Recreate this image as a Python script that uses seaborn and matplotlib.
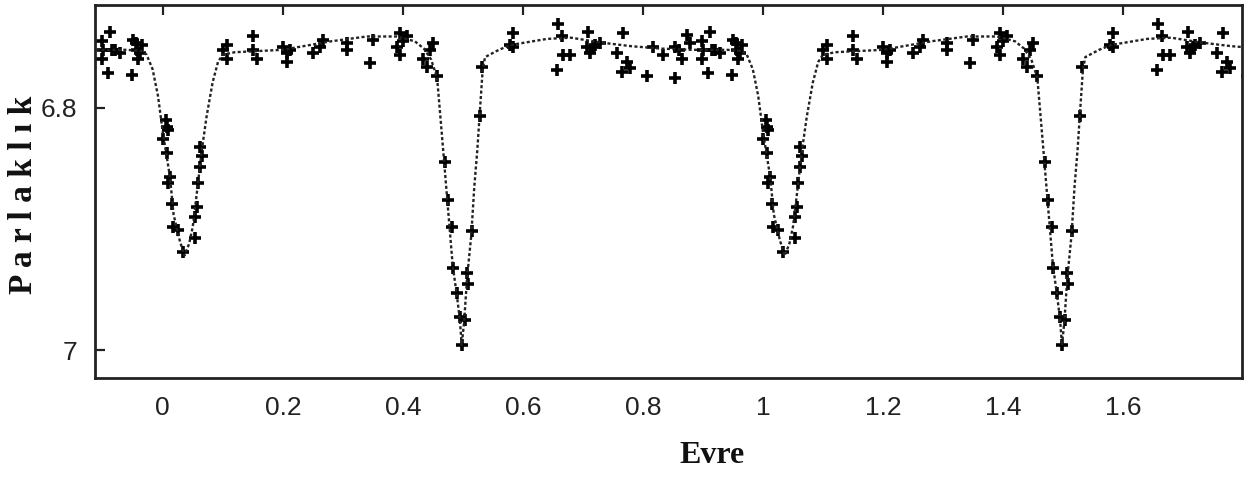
import pandas as pd
import matplotlib
matplotlib.use("Agg")
import matplotlib.pyplot as plt
import seaborn as sns

# observed points, one cycle (phase, magnitude); the chart repeats them at phase + 1
obs_phase = [-0.102, -0.088, -0.102, -0.085, -0.072, -0.092, -0.050, -0.043, -0.042, -0.052,
             -0.035, -0.038, -0.100, -0.080, -0.045,
             0.005, 0.007, 0.008, 0.000, 0.007, 0.012, 0.008, 0.015, 0.017, 0.025,
             0.033, 0.053, 0.053, 0.057, 0.058, 0.062, 0.062, 0.065,
             0.100, 0.107, 0.107, 0.150, 0.150, 0.157, 0.200, 0.207, 0.212, 0.207,
             0.250, 0.267, 0.262, 0.307, 0.307, 0.345, 0.350, 0.395, 0.390, 0.395,
             0.407, 0.400, 0.433, 0.445, 0.450, 0.440, 0.457,
             0.470, 0.475, 0.482, 0.483, 0.490, 0.495, 0.498, 0.503, 0.507, 0.508, 0.515,
             0.528, 0.532, 0.583, 0.583, 0.578,
             0.658, 0.665, 0.667, 0.678, 0.657, 0.708, 0.707, 0.712, 0.728, 0.717,
             0.767, 0.757, 0.765, 0.778, 0.773, 0.807, 0.817, 0.833, 0.853, 0.853,
             0.865, 0.873, 0.878, 0.720, 0.860]
obs_mag = [6.745, 6.737, 6.760, 6.752, 6.755, 6.771, 6.744, 6.752, 6.760, 6.773,
           6.748, 6.755, 6.752, 6.752, 6.746,
           6.810, 6.816, 6.818, 6.826, 6.837, 6.857, 6.862, 6.879, 6.898, 6.901,
           6.919, 6.907, 6.890, 6.882, 6.862, 6.849, 6.832, 6.840,
           6.752, 6.748, 6.760, 6.741, 6.752, 6.760, 6.750, 6.755, 6.752, 6.762,
           6.755, 6.744, 6.750, 6.746, 6.752, 6.763, 6.744, 6.738, 6.750, 6.756,
           6.741, 6.745, 6.760, 6.752, 6.746, 6.766, 6.774,
           6.845, 6.876, 6.898, 6.932, 6.953, 6.973, 6.996, 6.975, 6.936, 6.945, 6.902,
           6.807, 6.766, 6.738, 6.750, 6.748,
           6.731, 6.741, 6.756, 6.756, 6.769, 6.737, 6.750, 6.755, 6.746, 6.750,
           6.738, 6.755, 6.770, 6.767, 6.762, 6.774, 6.750, 6.756, 6.750, 6.775,
           6.760, 6.740, 6.746, 6.748, 6.752]

# fitted light curve, one cycle
model_phase = [-0.12, -0.06, -0.035, -0.027, -0.017, -0.008, 0.000, 0.012, 0.018, 0.028,
               0.036, 0.044, 0.050, 0.058, 0.065, 0.073, 0.083, 0.092, 0.100, 0.120,
               0.200, 0.280, 0.340, 0.390, 0.420, 0.435, 0.447, 0.457, 0.465, 0.474,
               0.483, 0.490, 0.495, 0.498, 0.502, 0.507, 0.514, 0.519, 0.524, 0.528,
               0.533, 0.537, 0.560, 0.580, 0.640, 0.680, 0.730, 0.780, 0.830, 0.880]
model_mag = [6.752, 6.752, 6.753, 6.756, 6.768, 6.790, 6.820, 6.857, 6.888, 6.909,
             6.922, 6.912, 6.898, 6.865, 6.835, 6.807, 6.779, 6.762, 6.756, 6.754,
             6.752, 6.745, 6.741, 6.741, 6.745, 6.751, 6.760, 6.775, 6.822, 6.876,
             6.930, 6.955, 6.975, 6.996, 6.977, 6.940, 6.905, 6.865, 6.835, 6.805,
             6.768, 6.758, 6.752, 6.748, 6.743, 6.742, 6.746, 6.749, 6.751, 6.752]

obs = pd.DataFrame({"Evre": obs_phase, "Parlaklik": obs_mag})
obs = pd.concat([obs, obs.assign(Evre=obs["Evre"] + 1)], ignore_index=True)
model = pd.DataFrame({"Evre": model_phase, "Parlaklik": model_mag})
model = pd.concat([model, model.assign(Evre=model["Evre"] + 1)], ignore_index=True)

sns.set_theme(style="white")
plt.rcParams["font.family"] = ["Liberation Sans", "DejaVu Sans"]

fig = plt.figure(figsize=(12.51, 4.8), dpi=100)
ax = fig.add_axes([0.0759, 0.2125, 0.9169, 0.7771])

sns.lineplot(data=model, x="Evre", y="Parlaklik", ax=ax, sort=False, estimator=None,
             color="#222222", linewidth=1.7, linestyle=(0, (1.3, 1.0)))
sns.scatterplot(data=obs, x="Evre", y="Parlaklik", ax=ax, marker="+", s=75,
                color="black", linewidth=2.6)

ax.set_xlim(-0.113, 1.798)
ax.set_ylim(7.023, 6.715)
ax.set_xticks([0, 0.2, 0.4, 0.6, 0.8, 1, 1.2, 1.4, 1.6])
ax.set_xticklabels(["0", "0.2", "0.4", "0.6", "0.8", "1", "1.2", "1.4", "1.6"])
ax.set_yticks([6.8, 7])
ax.set_yticklabels(["6.8", "7"])
ax.tick_params(axis="both", direction="in", length=7, width=1.6, labelsize=19,
               labelcolor="#222222", color="#222222", pad=13)
ax.tick_params(axis="x", top=True)
ax.tick_params(axis="y", left=True)
for sp in ax.spines.values():
    sp.set_linewidth(2.0)
    sp.set_color("#222222")

ax.set_xlabel("Evre", fontsize=23, fontweight="bold", family="Liberation Serif", color="#111111")
ax.xaxis.set_label_coords(0.538, -0.169)
ax.set_ylabel("P a r l a k l ı k", fontsize=24, fontweight="bold", family="Liberation Serif",
              color="#111111")
ax.yaxis.set_label_coords(-0.049, 0.492)

fig.savefig("out.png", dpi=100)
